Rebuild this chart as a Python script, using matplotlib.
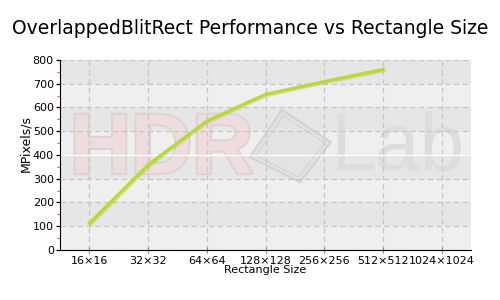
import matplotlib
matplotlib.use("Agg")
import matplotlib.pyplot as plt
from matplotlib.ticker import MultipleLocator
from matplotlib.patches import Polygon
import matplotlib.patheffects as pe

categories = ["16×16", "32×32", "64×64", "128×128", "256×256", "512×512", "1024×1024"]
values = [112, 358, 543, 655, 709, 760]
yticks = [0, 100, 200, 300, 400, 500, 600, 700, 800]

plt.rcParams['font.family'] = ['DejaVu Sans']

fig = plt.figure(figsize=(5, 3), dpi=100)
ax = fig.add_axes([0.12, 0.1667, 0.822, 0.6333])

ax.set_xlim(-0.5, len(categories) - 0.5)
ax.set_ylim(0, 800)

# alternating bands
for i in range(len(yticks) - 1):
    col = '#e6e6e6' if i % 2 == 1 else '#efefef'
    ax.axhspan(yticks[i], yticks[i + 1], color=col, zorder=0, lw=0)

# watermark
ax.text(0.247, 0.521, "HDR", transform=ax.transAxes, fontsize=61, fontweight='bold',
        family='Liberation Sans', color='#efdcdc', ha='center', va='center', zorder=0.5,
        path_effects=[pe.withStroke(linewidth=3, foreground='#dcd4d4')])
ax.text(0.821, 0.534, "Lab", transform=ax.transAxes, fontsize=58,
        family='Liberation Sans', color='#dddddd', ha='center', va='center', zorder=0.5)
outer = [(0.540, 0.737), (0.659, 0.568), (0.584, 0.358), (0.462, 0.489)]
cx = sum(p[0] for p in outer) / 4
cy = sum(p[1] for p in outer) / 4
ax.add_patch(Polygon(outer, closed=True, transform=ax.transAxes, fc='#e3e3e3', ec='#d2d2d2',
                     lw=1.5, zorder=0.5))
inner = [(cx + 0.85 * (px - cx), cy + 0.85 * (py - cy)) for px, py in outer]
ax.add_patch(Polygon(inner, closed=True, transform=ax.transAxes, fill=False, ec='#d6d6d6',
                     lw=1.0, zorder=0.5))

ax.grid(True, color='#c6c6c6', linestyle=(0, (4, 3)), linewidth=0.9, zorder=1)
ax.set_axisbelow(True)
ax.axhline(400, color='white', lw=1, zorder=1.5)

x = list(range(len(values)))
ax.plot([xi + 0.02 for xi in x], [v - 5 for v in values], color='#9a9a9a', lw=2.3, alpha=0.25,
        zorder=2)
ax.plot(x, values, color='#b8dc2c', lw=2.4, zorder=3, solid_joinstyle='round')

ax.set_xticks(range(len(categories)))
ax.set_xticklabels(categories, fontsize=8)
ax.set_yticks(yticks)
ax.set_yticklabels([str(t) for t in yticks], fontsize=8)
ax.yaxis.set_minor_locator(MultipleLocator(50))
ax.tick_params(axis='y', which='minor', length=2, color='#ff5050', width=0.8, pad=4)
ax.tick_params(axis='y', which='major', length=3, color='black', width=0.9, pad=1.5)
ax.tick_params(axis='x', which='major', length=5, direction='inout', color='#808080', pad=2)

for s in ['top', 'right']:
    ax.spines[s].set_visible(False)
ax.spines['left'].set_color('black')
ax.spines['bottom'].set_color('black')

ax.set_xlabel("Rectangle Size", fontsize=8, labelpad=-1)
ax.set_ylabel("MPixels/s", fontsize=9)
ax.yaxis.set_label_coords(-0.067, 0.56)

fig.text(0.5, 0.905, "OverlappedBlitRect Performance vs Rectangle Size", ha='center', va='center',
         fontsize=13.5)

fig.savefig("out.png", dpi=100)
